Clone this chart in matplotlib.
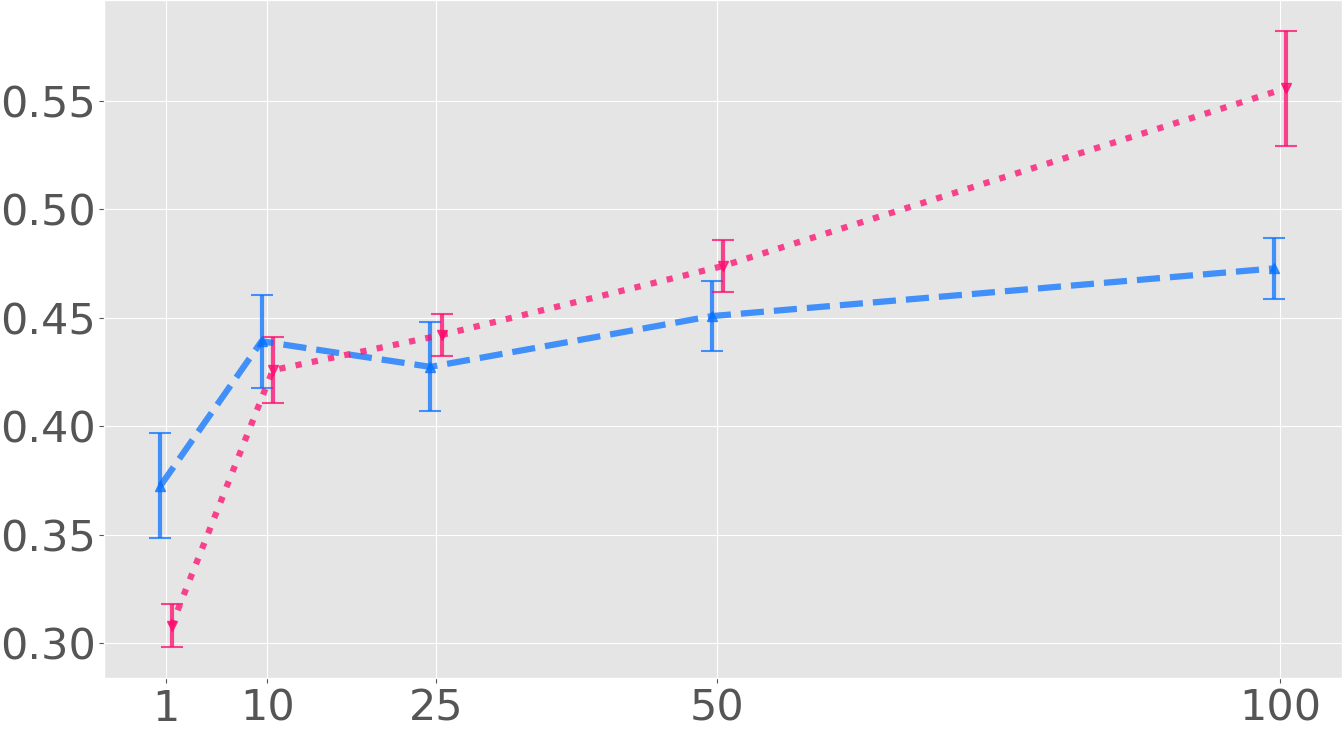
import numpy as np
import matplotlib
matplotlib.use('Agg')
import matplotlib.pyplot as plt

plt.style.use('ggplot')

steps = [1, 10, 25, 50, 100]
tick_labels = ['1', '10', '25', '50', '100']

blue_mean = [0.3724, 0.4391, 0.4273, 0.4507, 0.4727]
blue_err = [0.0242, 0.0215, 0.0205, 0.0162, 0.0142]

pink_mean = [0.3080, 0.4258, 0.4420, 0.4738, 0.5557]
pink_err = [0.0099, 0.0152, 0.0099, 0.0118, 0.0265]

x = np.array(steps, dtype=float)

fig = plt.figure(figsize=(13.42, 7.31), dpi=100)
ax = fig.add_axes([104 / 1342, 53 / 731, 1238 / 1342, 678 / 731])

ax.errorbar(x - 0.5, blue_mean, yerr=blue_err, color='#0A72FF', ls='--', lw=4.5,
            marker='^', ms=7, elinewidth=3, capsize=8, capthick=1.5, alpha=0.75)
ax.errorbar(x + 0.5, pink_mean, yerr=pink_err, color='#FF0A6E', ls=':', lw=4.5,
            marker='v', ms=7, elinewidth=3, capsize=8, capthick=1.5, alpha=0.75)

ax.set_xticks(steps)
ax.set_xticklabels(tick_labels)
ax.set_yticks([0.30, 0.35, 0.40, 0.45, 0.50, 0.55])
ax.set_yticklabels(['0.30', '0.35', '0.40', '0.45', '0.50', '0.55'])
ax.tick_params(labelsize=31, colors='#555555')
ax.tick_params(axis='y', pad=2)

fig.savefig('out.png', dpi=100)
